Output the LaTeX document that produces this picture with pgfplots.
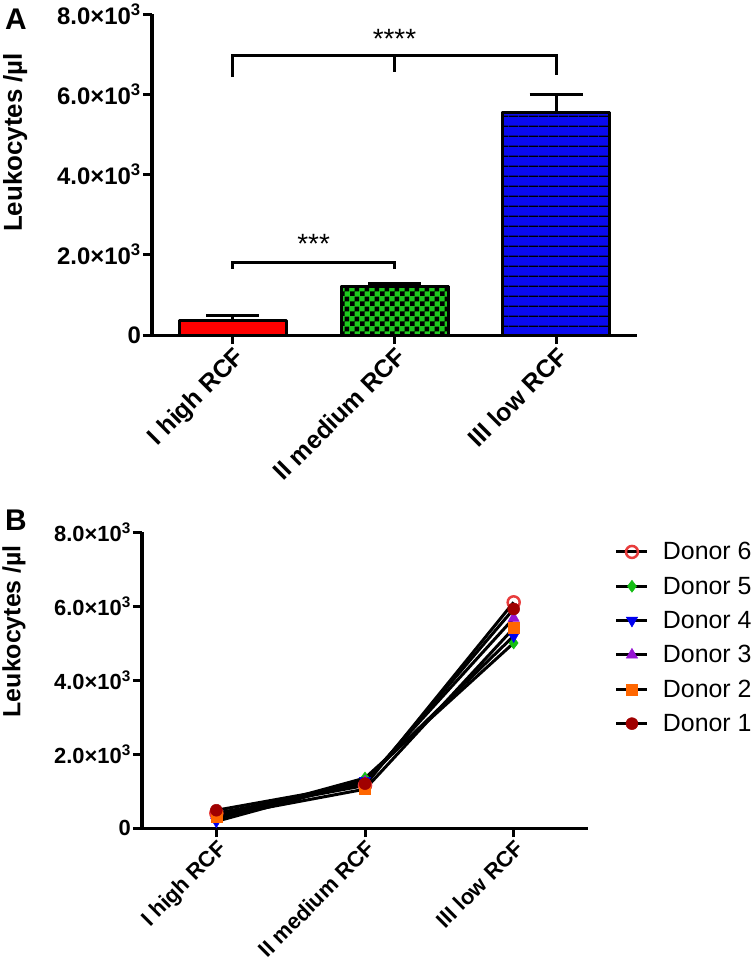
\documentclass[border=0pt]{standalone}
\usepackage{fontspec}
\setmainfont{Liberation Sans}
\usepackage{pgfplots}
\usepackage{pgfplotstable}
\pgfplotsset{compat=1.18}
\usetikzlibrary{patterns,patterns.meta}

\pgfdeclarepatternformonly{checker}{\pgfpointorigin}{\pgfpoint{10bp}{10bp}}{\pgfpoint{10bp}{10bp}}{%
  \pgfpathrectangle{\pgfpointorigin}{\pgfpoint{5bp}{5bp}}%
  \pgfpathrectangle{\pgfpoint{5bp}{5bp}}{\pgfpoint{5bp}{5bp}}%
  \pgfusepath{fill}}

\definecolor{cRed}{RGB}{255,0,0}
\definecolor{cGreen}{RGB}{30,200,30}
\definecolor{cBlue}{RGB}{10,10,240}
\definecolor{dSix}{RGB}{232,60,60}
\definecolor{dFive}{RGB}{20,190,20}
\definecolor{dFour}{RGB}{0,0,240}
\definecolor{dThree}{RGB}{150,20,210}
\definecolor{dTwo}{RGB}{255,102,0}
\definecolor{dOne}{RGB}{160,0,0}

\pgfplotstableread{
x y
0 400
1 1150
2 6100
}\donorsix
\pgfplotstableread{
x y
0 250
1 1350
2 5000
}\donorfive
\pgfplotstableread{
x y
0 180
1 1280
2 5190
}\donorfour
\pgfplotstableread{
x y
0 350
1 1250
2 5670
}\donorthree
\pgfplotstableread{
x y
0 300
1 1050
2 5400
}\donortwo
\pgfplotstableread{
x y
0 480
1 1200
2 5920
}\donorone

\pgfplotsset{
  mystyle/.style={
    scale only axis,
    xmin=-0.5, xmax=2.5, ymin=0, ymax=8000,
    axis lines=left,
    axis line style={line width=3bp, -},
    tick align=outside,
    major tick length=9bp,
    tick style={line width=3bp, black},
    xtick={0,1,2},
    xticklabels={I high RCF, II medium RCF, III low RCF},
    xticklabel style={rotate=45, anchor=north east, inner sep=1bp},
    ytick={0,2000,4000,6000,8000},
    yticklabels={0, {2.0×10\textsuperscript{3}}, {4.0×10\textsuperscript{3}}, {6.0×10\textsuperscript{3}}, {8.0×10\textsuperscript{3}}},
    yticklabel style={inner sep=2bp},
    scaled y ticks=false,
    ylabel={Leukocytes /µl},
    clip=false,
  },
  barerr/.style={error bars/.cd, y dir=plus, y explicit, error bar style={line width=3bp, black},
    error mark options={rotate=90, line width=3bp, mark size=26.5bp, black}},
}

\begin{document}
\begin{tikzpicture}
\useasboundingbox (0,0) rectangle (756bp,-966bp);

\node[font=\bfseries\fontsize{30}{30}\selectfont] at (16bp,-19bp) {A};
\node[font=\bfseries\fontsize{30}{30}\selectfont] at (16bp,-520bp) {B};

\begin{axis}[mystyle,
  at={(152bp,-335bp)}, anchor=south west,
  width=485bp, height=321bp,
  xticklabel style={font=\bfseries\fontsize{25}{25}\selectfont},
  yticklabel style={font=\bfseries\fontsize{24}{24}\selectfont},
  ylabel style={font=\bfseries\fontsize{26}{26}\selectfont, at={(axis description cs:-0.282,0.60)}, anchor=center},
]
\addplot[ybar, bar width=107bp, bar shift=0pt, fill=cRed, draw=black, line width=3bp, line join=round, barerr]
  coordinates {(0,355) +- (0,125)};
\addplot[ybar, bar width=107bp, bar shift=0pt, fill=cGreen, draw=black, line width=3bp, line join=round,
  postaction={pattern=checker, pattern color=black}, barerr]
  coordinates {(1,1220) +- (0,75)};
\addplot[ybar, bar width=107bp, bar shift=0pt, fill=cBlue, draw=black, line width=3bp, line join=round,
  postaction={pattern={Lines[angle=0,distance=9.7bp,line width=1.4bp]}, pattern color=black}, barerr]
  coordinates {(2,5550) +- (0,440)};

% significance brackets
\draw[line width=3bp] (axis cs:0,1646) -- (axis cs:0,1813) -- (axis cs:1,1813) -- (axis cs:1,1646);
\node[font=\fontsize{28}{28}\selectfont] at (axis cs:0.5,2280) {***};
\draw[line width=3bp] (axis cs:0,6430) -- (axis cs:0,6960) -- (axis cs:2,6960) -- (axis cs:2,6480);
\draw[line width=3bp] (axis cs:1,6960) -- (axis cs:1,6560);
\node[font=\fontsize{28}{28}\selectfont] at (axis cs:1,7380) {****};
\end{axis}

\begin{axis}[mystyle,
  at={(142bp,-828bp)}, anchor=south west,
  width=446bp, height=296bp,
  xticklabel style={font=\bfseries\fontsize{22}{22}\selectfont},
  yticklabel style={font=\bfseries\fontsize{22}{22}\selectfont},
  ylabel style={font=\bfseries\fontsize{25}{25}\selectfont, at={(axis description cs:-0.287,0.665)}, anchor=center},
  legend style={draw=none, fill=none, at={(axis description cs:1.060,0.972)}, anchor=north west,
    font=\fontsize{25}{25}\selectfont, row sep=11.6bp, inner sep=0pt,
    /tikz/every odd column/.append style={column sep=12bp}},
  legend cell align=left,
  legend image code/.code={\draw[mark repeat=2,mark phase=2] plot coordinates {(0bp,0bp) (15.5bp,0bp) (31bp,0bp)};},
]
\addplot[black, line width=3bp, mark=o, mark size=6bp, mark options={draw=dSix, line width=2.5bp, fill=white}] table {\donorsix};
\addlegendentry{Donor 6}
\addplot[black, line width=3bp, mark=diamond*, mark size=6bp, mark options={draw=dFive, fill=dFive, line width=0.5bp}] table {\donorfive};
\addlegendentry{Donor 5}
\addplot[black, line width=3bp, mark=triangle*, mark size=6.5bp, mark options={draw=dFour, fill=dFour, rotate=180, line width=0.5bp}] table {\donorfour};
\addlegendentry{Donor 4}
\addplot[black, line width=3bp, mark=triangle*, mark size=6.5bp, mark options={draw=dThree, fill=dThree, line width=0.5bp}] table {\donorthree};
\addlegendentry{Donor 3}
\addplot[black, line width=3bp, mark=square*, mark size=5.5bp, mark options={draw=dTwo, fill=dTwo, line width=0.5bp}] table {\donortwo};
\addlegendentry{Donor 2}
\addplot[black, line width=3bp, mark=*, mark size=6bp, mark options={draw=dOne, fill=dOne, line width=0.5bp}] table {\donorone};
\addlegendentry{Donor 1}
\end{axis}
\end{tikzpicture}
\end{document}
